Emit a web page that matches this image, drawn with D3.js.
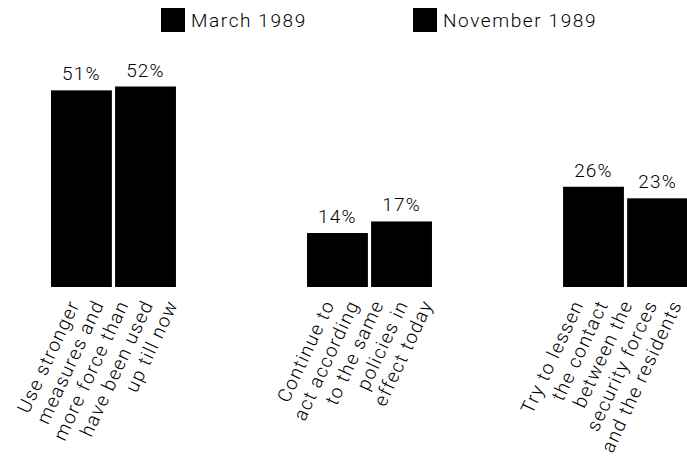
<!DOCTYPE html>
<html>
<head>
<meta charset="utf-8">
<script src="https://cdn.jsdelivr.net/npm/d3@7"></script>
<style>
  html, body { margin: 0; padding: 0; background: #fff; }
  svg { display: block; font-family: Roboto, "Liberation Sans", Arial, Helvetica, sans-serif; font-weight: 300; }
</style>
</head>
<body>
<svg id="chart" width="687" height="460"></svg>
<script>
// ---- data ----
const categories = ["stronger", "same", "lessen"];
const categoryLines = [
  ["Use stronger", "measures and", "more force than", "have been used", "up till now"],
  ["Continue to", "act according", "to the same", "policies in", "effect today"],
  ["Try to lessen", "the contact", "between the", "security forces", "and the residents"]
];
const seriesNames = ["March 1989", "November 1989"];
const march1989 = [51, 14, 26];
const november1989 = [52, 17, 23];
const seriesValues = [march1989, november1989];
const seriesColors = ["#000000", "#000000"];

// ---- layout constants ----
const labelStart = [29, 28, 21];   // px from band start to first label line anchor
const labelStep = 24.6;            // horizontal step between label lines

const svg = d3.select("#chart");
const x = d3.scaleBand().domain(categories).range([51, 688]).paddingInner(0.512).paddingOuter(0);
const xs = d3.scaleBand().domain(seriesNames).range([0, x.bandwidth()]).paddingInner(0.05);
const y = d3.scaleLinear().domain([0, 52]).range([287, 86.5]);

const rows = [];
categories.forEach((c, i) => {
  seriesNames.forEach((s, j) => rows.push({ cat: c, series: s, value: seriesValues[j][i], color: seriesColors[j] }));
});

// bars
svg.append("g").selectAll("rect").data(rows).join("rect")
  .attr("x", d => x(d.cat) + xs(d.series))
  .attr("y", d => y(d.value))
  .attr("width", xs.bandwidth())
  .attr("height", d => y(0) - y(d.value))
  .attr("fill", d => d.color);

// value labels
svg.append("g").selectAll("text").data(rows).join("text")
  .attr("x", d => x(d.cat) + xs(d.series) + xs.bandwidth() / 2)
  .attr("y", d => y(d.value) - 10)
  .attr("text-anchor", "middle")
  .attr("font-size", 19)
  .attr("letter-spacing", 1.2)
  .attr("fill", "#000")
  .text(d => d.value + "%");

// category labels (rotated, multi-line)
const labG = svg.append("g");
categories.forEach((c, i) => {
  categoryLines[i].forEach((line, k) => {
    const ax = x(c) + labelStart[i] + k * labelStep;
    const ay = 304;
    labG.append("text")
      .attr("transform", `translate(${ax},${ay}) rotate(-65)`)
      .attr("text-anchor", "end")
      .attr("font-size", 19)
      .attr("letter-spacing", 1.3)
      .attr("fill", "#000")
      .text(line);
  });
});

// legend
const legendX = [161, 413];
const leg = svg.append("g");
seriesNames.forEach((s, j) => {
  leg.append("rect").attr("x", legendX[j]).attr("y", 8).attr("width", 24).attr("height", 24).attr("fill", seriesColors[j]);
  leg.append("text").attr("x", legendX[j] + 30).attr("y", 27)
    .attr("font-size", 19).attr("letter-spacing", 1.6).attr("fill", "#000").text(s);
});
</script>
</body>
</html>
